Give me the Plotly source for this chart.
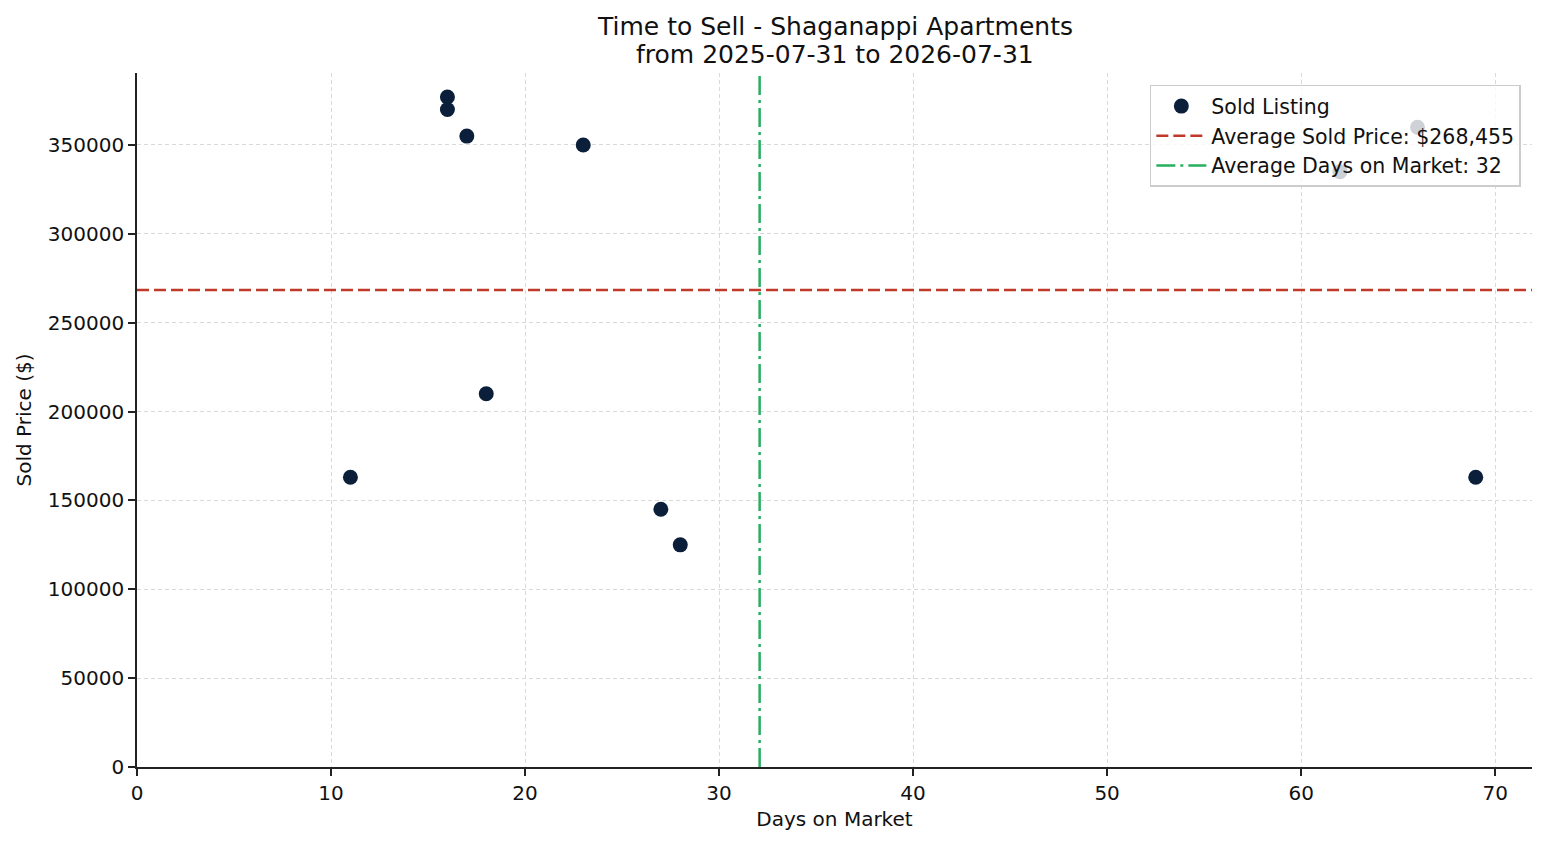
import numpy as np
import plotly.graph_objects as go

# Sold listings
days_on_market = [11, 16, 16, 17, 18, 23, 27, 28, 62, 66, 69]
sold_price = [163000, 377000, 370000, 355000, 210000, 350000, 145000, 125000, 335000, 360000, 163000]

title_lines = ["Time to Sell - Shaganappi Apartments", "from 2025-07-31 to 2026-07-31"]

avg_price = np.mean(sold_price)
avg_days = np.mean(days_on_market)

font = "DejaVu Sans"

fig = go.Figure()

fig.add_trace(go.Scatter(
    x=days_on_market, y=sold_price, mode="markers",
    name="Sold Listing",
    marker=dict(color="#0b1f3b", size=15, line=dict(width=0)),
))

fig.add_hline(y=avg_price, line=dict(color="#c0392b", width=2.5, dash="12px,5px"),
              showlegend=True, name=f"Average Sold Price: ${avg_price:,.0f}")
fig.add_vline(x=avg_days, line=dict(color="#27ae60", width=2.5, dash="19px,5px,3px,5px"),
              showlegend=True, name=f"Average Days on Market: {avg_days:.0f}")

axis_common = dict(
    showline=True, linecolor="#222", linewidth=1.6, mirror=False,
    ticks="outside", ticklen=7, tickcolor="#222", tickwidth=1.6,
    showgrid=True, gridcolor="#d9d9d9", griddash="4px,3px", gridwidth=1,
    zeroline=False, tickfont=dict(size=20, color="#111", family=font),
)

fig.update_xaxes(range=[0, 71.9], dtick=10,
                 title=dict(text="Days on Market", font=dict(size=20, family=font), standoff=8),
                 **axis_common)
fig.update_yaxes(range=[0, 390500], dtick=50000, tickformat="d",
                 title=dict(text="Sold Price ($)", font=dict(size=20, family=font), standoff=11),
                 **axis_common)

# two-line title placed above the axes
for line, shift in zip(title_lines, [47, 19]):
    fig.add_annotation(text=line, xref="paper", yref="paper", x=0.5, y=1,
                       xanchor="center", yanchor="middle", yshift=shift, showarrow=False,
                       font=dict(size=25, family=font, color="#111"))

fig.update_layout(
    width=1539, height=837,
    margin=dict(l=129, r=15, t=65, b=78),
    paper_bgcolor="white", plot_bgcolor="white",
    font=dict(family=font, color="#111"),
    legend=dict(x=0.992, xanchor="right", y=0.983, yanchor="top",
                bgcolor="rgba(255,255,255,0.8)", bordercolor="#cccccc", borderwidth=1.5,
                font=dict(size=20.5, family=font), tracegroupgap=0, itemwidth=50),
    showlegend=True,
)

fig.write_html("out.html")
